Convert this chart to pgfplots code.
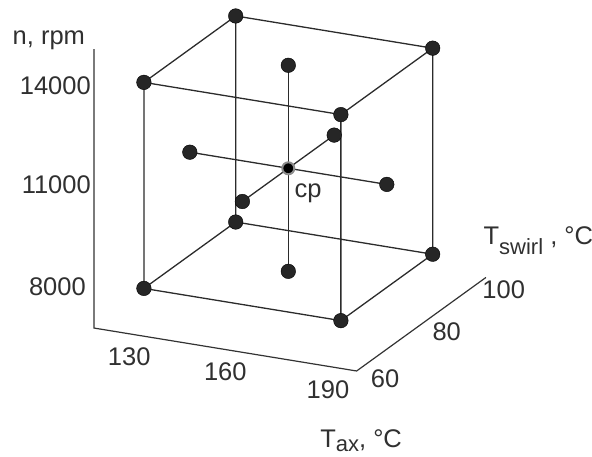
\documentclass[border=0pt]{standalone}
\usepackage{fontspec}
\setmainfont{Liberation Sans}
\usepackage{pgfplots}
\pgfplotsset{compat=1.18}
\definecolor{cLine}{HTML}{2B2B2B}
\definecolor{cAxis}{HTML}{333333}
\definecolor{cDot}{HTML}{262626}
\definecolor{cTxt}{HTML}{303030}
\definecolor{cRing}{HTML}{8C8C8C}
\newcommand{\lab}{\fontsize{25.5bp}{30bp}\selectfont}
\newcommand{\sub}[2]{\raisebox{-#1}{\fontsize{22bp}{22bp}\selectfont #2}}
\tikzset{lbl/.style={font=\lab, text=cTxt, inner sep=0pt}}
\begin{document}
\begin{tikzpicture}
\begin{axis}[
  x={(3.283bp,-0.537bp)}, y={(2.295bp,1.66bp)}, z={(0bp,0.03435bp)},
  hide axis, clip=false,
  xmin=120, xmax=200, ymin=52.55, ymax=108.9, zmin=7050, zmax=15170,
]
% axis lines
\addplot3[cAxis, line width=1.2bp, line join=miter] coordinates {
  (120,52.55,15170) (120,52.55,7050) (200,52.55,7050) (200,108.9,7050)};
% cube edges
\addplot3[cLine, line width=1.3bp, unbounded coords=jump, line join=round] coordinates {
  (130,60,8000) (190,60,8000) (190,60,14000) (130,60,14000) (130,60,8000)
  (nan,nan,nan)
  (130,100,8000) (190,100,8000) (190,100,14000) (130,100,14000) (130,100,8000)
  (nan,nan,nan)
  (130,60,8000) (130,100,8000) (nan,nan,nan)
  (190,60,8000) (190,100,8000) (nan,nan,nan)
  (190,60,14000) (190,100,14000) (nan,nan,nan)
  (130,60,14000) (130,100,14000)};
% axial lines through centre
\addplot3[cLine, line width=1.3bp] coordinates {(160,80,8000) (160,80,14000)};
\addplot3[cLine, line width=1.3bp] coordinates {(130,80,11000) (190,80,11000)};
\addplot3[cLine, line width=1.3bp] coordinates {(160,60,11000) (160,100,11000)};
% design points
\addplot3[only marks, mark=*, mark size=7.3bp, mark options={fill=cDot, draw=none}] coordinates {
  (130,60,8000) (190,60,8000) (130,100,8000) (190,100,8000)
  (130,60,14000) (190,60,14000) (130,100,14000) (190,100,14000)
  (160,80,8000) (160,80,14000) (130,80,11000) (190,80,11000)
  (160,60,11000) (160,100,11000)};
% centre point
\addplot3[only marks, mark=*, mark size=6bp, mark options={fill=black, draw=cRing, line width=2bp}] coordinates {(160,80,11000)};
\coordinate (O) at (axis cs:160,80,11000);
% n ticks
\node[lbl, anchor=base east, xshift=-3bp, yshift=-5.6bp] at (axis cs:120,52.55,14000) {14000};
\node[lbl, anchor=base east, xshift=-3bp, yshift=-0.9bp] at (axis cs:120,52.55,11000) {11000};
\node[lbl, anchor=base east, xshift=-8bp, yshift=-0.2bp] at (axis cs:120,52.55,8000) {8000};
% Tax ticks
\node[lbl, anchor=base, xshift=2.4bp, yshift=-32.5bp] at (axis cs:130,52.55,7050) {130};
\node[lbl, anchor=base, xshift=0bp, yshift=-31.4bp] at (axis cs:160,52.55,7050) {160};
\node[lbl, anchor=base, xshift=4.2bp, yshift=-33.3bp] at (axis cs:190,52.55,7050) {190};
% Tswirl ticks
\node[lbl, anchor=base west, xshift=-3bp, yshift=-28.6bp] at (axis cs:200,60,7050) {60};
\node[lbl, anchor=base west, xshift=12.7bp, yshift=-15.5bp] at (axis cs:200,80,7050) {80};
\node[lbl, anchor=base west, xshift=16.7bp, yshift=-6bp] at (axis cs:200,100,7050) {100};
% titles
\node[lbl, anchor=base west, xshift=-81.5bp, yshift=4.3bp] at (axis cs:120,52.55,15170) {n, rpm};
\node[lbl, anchor=base west, xshift=-36.5bp, yshift=-76.9bp] at (axis cs:200,52.55,7050) {T\sub{4bp}{ax}, °C};
\node[lbl, anchor=base west, xshift=-2.5bp, yshift=32.6bp] at (axis cs:200,108.9,7050) {T\sub{10bp}{swirl} , °C};
\node[lbl, anchor=base west, xshift=6bp, yshift=-29bp] at (axis cs:160,80,11000) {cp};
\end{axis}
\pgfresetboundingbox
\path[use as bounding box] ([shift={(-288.3bp,-288.7bp)}]O) rectangle ([shift={(303.7bp,168.3bp)}]O);
\end{tikzpicture}
\end{document}
